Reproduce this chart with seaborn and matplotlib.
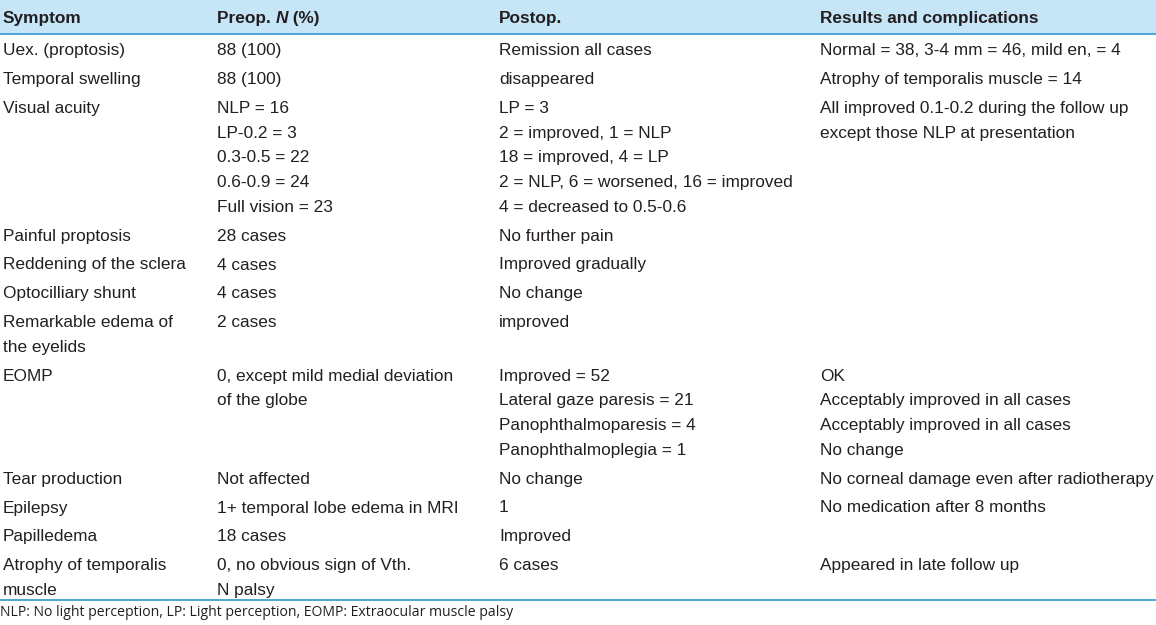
import matplotlib
matplotlib.use("Agg")
import matplotlib.pyplot as plt
import seaborn as sns

# table content, one entry per row ("\n" = extra line inside the row)
headers = ["Symptom", "Preop. ", "Postop.", "Results and complications"]
symptoms = [
    "Uex. (proptosis)", "Temporal swelling", "Visual acuity", "Painful proptosis",
    "Reddening of the sclera", "Optocilliary shunt", "Remarkable edema of\nthe eyelids",
    "EOMP", "Tear production", "Epilepsy", "Papilledema",
    "Atrophy of temporalis\nmuscle",
]
preop = [
    "88 (100)", "88 (100)",
    "NLP = 16\nLP-0.2 = 3\n0.3-0.5 = 22\n0.6-0.9 = 24\nFull vision = 23",
    "28 cases", "4 cases", "4 cases", "2 cases",
    "0, except mild medial deviation\nof the globe",
    "Not affected", "1+ temporal lobe edema in MRI", "18 cases",
    "0, no obvious sign of Vth.\nN palsy",
]
postop = [
    "Remission all cases", "disappeared",
    "LP = 3\n2 = improved, 1 = NLP\n18 = improved, 4 = LP\n2 = NLP, 6 = worsened, 16 = improved\n4 = decreased to 0.5-0.6",
    "No further pain", "Improved gradually", "No change", "improved",
    "Improved = 52\nLateral gaze paresis = 21\nPanophthalmoparesis = 4\nPanophthalmoplegia = 1",
    "No change", "1", "Improved", "6 cases",
]
results = [
    "Normal = 38, 3-4 mm = 46, mild en, = 4", "Atrophy of temporalis muscle = 14",
    "All improved 0.1-0.2 during the follow up\nexcept those NLP at presentation",
    "", "", "", "",
    "OK\nAcceptably improved in all cases\nAcceptably improved in all cases\nNo change",
    "No corneal damage even after radiotherapy", "No medication after 8 months",
    "", "Appeared in late follow up",
]
footnote = "NLP: No light perception, LP: Light perception, EOMP: Extraocular muscle palsy"

sns.set_theme(style="white")
plt.rcParams["font.family"] = ["Liberation Sans", "DejaVu Sans"]

W, H = 1156, 625
fig = plt.figure(figsize=(W / 100, H / 100), dpi=100)
ax = fig.add_axes([0, 0, 1, 1])
ax.set_xlim(0, W)
ax.set_ylim(H, 0)
ax.axis("off")

txt = "#231f20"
band = "#c6e6f8"
rule = "#3a9fd3"
col_x = [3, 217, 499, 820]
fs = 12.4
base = 6.3  # baseline offset from line centre

# header band
ax.axhspan(0, 33, color=band, lw=0)
ax.axhline(33.5, color=rule, lw=1.3)
hy = 17 + base
for x, h in zip(col_x, headers):
    ax.text(x, hy, h, fontsize=fs, fontweight="bold", color=txt, va="baseline")

# "Preop. N (%)" with italic N
fig.canvas.draw()
r = fig.canvas.get_renderer()
t1 = ax.texts[1]
w1 = t1.get_window_extent(r).x1
xn = ax.transData.inverted().transform((w1, 0))[0]
t2 = ax.text(xn, hy, "N", fontsize=fs, fontweight="bold", style="italic", color=txt, va="baseline")
w2 = t2.get_window_extent(r).x1
xp = ax.transData.inverted().transform((w2, 0))[0]
ax.text(xp, hy, " (%)", fontsize=fs, fontweight="bold", color=txt, va="baseline")

# body rows
line_h = 24.75
gap = 28.8
y = 49
for row in zip(symptoms, preop, postop, results):
    n = max(c.count("\n") + 1 for c in row)
    for x, cell in zip(col_x, row):
        for k, line in enumerate(cell.split("\n")):
            if line:
                ax.text(x, y + k * line_h + base, line, fontsize=fs, color=txt, va="baseline")
    y += (n - 1) * line_h + gap

ax.axhline(600, color=rule, lw=1.3)
ax.text(0, 613, footnote, fontsize=10.1, color=txt, va="center",
        family=["Open Sans", "DejaVu Sans"])

fig.savefig("out.png", dpi=100, facecolor="white")
